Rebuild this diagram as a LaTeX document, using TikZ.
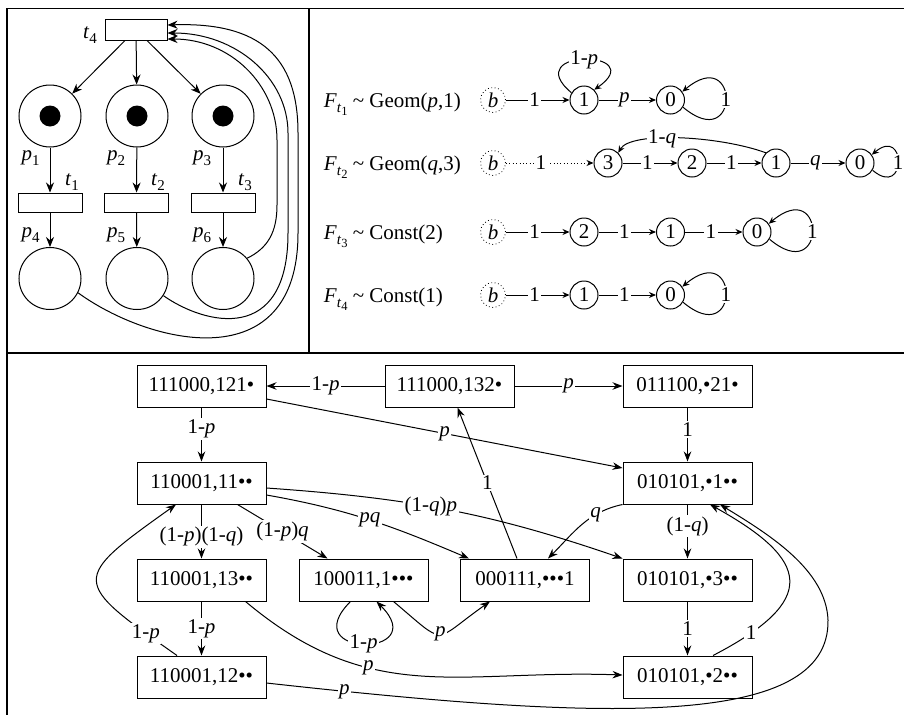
\documentclass[tikz,border=0pt]{standalone}
\usepackage{fontspec}
\setmainfont{Liberation Serif}
\usetikzlibrary{arrows.meta,calc}
\newcommand{\sub}[1]{\raisebox{-0.25em}{\fontsize{15}{15}\selectfont #1}}
\newcommand{\subb}[1]{\raisebox{-0.2em}{\fontsize{12.5}{12.5}\selectfont #1}}
\newcommand{\selfloop}[2]{\draw[sarr] (#1.-30) .. controls +(-40:#2) and +(40:#2) .. (#1.35) node[lbl,pos=0.5]{1};}
\begin{document}
\begin{tikzpicture}[x=1pt,y=1pt,font=\fontsize{21}{25}\selectfont,line width=1pt,
  lbl/.style={fill=white,inner sep=1.5pt},
  box/.style={draw,minimum width=129pt,minimum height=42pt,inner sep=0pt},
  place/.style={draw,circle,minimum size=62pt,inner sep=0pt},
  trans/.style={draw,rectangle,minimum width=64pt,minimum height=19pt,inner sep=0pt},
  token/.style={fill=black,circle,minimum size=21pt,inner sep=0pt},
  snode/.style={draw,circle,minimum size=28pt,inner sep=0pt},
  bnode/.style={draw,circle,minimum size=25pt,inner sep=0pt,line width=0.8pt,dash pattern=on 0.8pt off 2.6pt},
  parr/.style={-{Stealth[length=10pt,width=8pt]}},
  garr/.style={-{Stealth[length=10pt,width=7.5pt]}},
  sarr/.style={-{Stealth[length=7pt,width=6pt]}},
  frame/.style={line width=1.3pt}]
\useasboundingbox (0,0) rectangle (904,-715);
\clip (0,0) rectangle (904,-715);
% frame
\draw[frame] (904,-8.5) -- (7,-8.5) -- (7,-715);
\draw[frame] (309,-8.5) -- (309,-353);
\draw[frame] (7,-353) -- (904,-353);

% ---------------- Petri net
\node[trans,minimum width=62pt,minimum height=21pt] (t4) at (136,-29.5) {};
\node[place] (p1) at (50,-116) {};
\node[place] (p2) at (137,-116) {};
\node[place] (p3) at (223,-116) {};
\node[token] (k1) at (p1) {};
\node[token] (k2) at (p2) {};
\node[token] (k3) at (p3) {};
\node[trans] (t1) at (50,-202.5) {};
\node[trans] (t2) at (136.5,-202.5) {};
\node[trans] (t3) at (223,-202.5) {};
\node[place] (p4) at (50,-278.5) {};
\node[place] (p5) at (137,-278.5) {};
\node[place] (p6) at (223,-278.5) {};
\node[anchor=base] (lt4) at (90,-38) {\textit{t}\sub{4}};
\node[anchor=base] (lp1) at (30.5,-160) {\textit{p}\sub{1}};
\node[anchor=base] (lp2) at (116,-160) {\textit{p}\sub{2}};
\node[anchor=base] (lp3) at (202,-160) {\textit{p}\sub{3}};
\node[anchor=base] (lt1) at (72,-185) {\textit{t}\sub{1}};
\node[anchor=base] (lt2) at (158,-185) {\textit{t}\sub{2}};
\node[anchor=base] (lt3) at (245,-185) {\textit{t}\sub{3}};
\node[anchor=base] (lp4) at (30.5,-237) {\textit{p}\sub{4}};
\node[anchor=base] (lp5) at (116,-237) {\textit{p}\sub{5}};
\node[anchor=base] (lp6) at (202,-237) {\textit{p}\sub{6}};
\draw[parr] ($(t4.south)+(-11,0)$) -- (p1);
\draw[parr] (t4) -- (p2);
\draw[parr] ($(t4.south)+(11,0)$) -- (p3);
\draw[parr] (p1) -- (t1);
\draw[parr] (p2) -- (t2);
\draw[parr] (p3) -- (t3);
\draw[parr] (t1) -- (p4);
\draw[parr] (t2) -- (p5);
\draw[parr] (t3) -- (p6);
\draw[parr] (p6.40) .. controls (268,-248) and (277,-232) .. (277,-205) -- (277,-140) .. controls (277,-84.5) and (230,-39) .. ($(t4.east)+(0,-9.5)$);
\draw[parr] (p5.-33) .. controls (205,-325) and (288,-345) .. (288,-233) -- (288,-133) .. controls (288,-78) and (236,-33) .. ($(t4.east)+(0,-3.5)$);
\draw[parr] (p4.-27) .. controls (150,-345) and (298,-380) .. (298,-233) -- (298,-133) .. controls (298,-57) and (260,-22) .. ($(t4.east)+(0,4.5)$);

% ---------------- chains
\node[anchor=base west] (f1) at (320,-107) {\textit{F}\sub{\textit{t}\subb{1}} \textasciitilde\ Geom(\textit{p},1)};
\node[anchor=base west] (f2) at (320,-170) {\textit{F}\sub{\textit{t}\subb{2}} \textasciitilde\ Geom(\textit{q},3)};
\node[anchor=base west] (f3) at (320,-239) {\textit{F}\sub{\textit{t}\subb{3}} \textasciitilde\ Const(2)};
\node[anchor=base west] (f4) at (320,-302) {\textit{F}\sub{\textit{t}\subb{4}} \textasciitilde\ Const(1)};
% row 1
\node[bnode] (b1) at (493,-100) {\textit{b}};
\node[snode] (a1) at (584,-100) {1};
\node[snode] (a0) at (670.5,-100) {0};
\draw[sarr] (b1) -- node[lbl,pos=0.45]{1} (a1);
\draw[sarr] (a1) -- node[lbl,pos=0.45]{\textit{p}} (a0);
\draw[sarr] (a1.150) .. controls +(140:70) and +(35:70) .. (a1.45) node[lbl,pos=0.5]{1-\textit{p}};
\selfloop{a0}{75}
% row 2
\node[bnode] (b2) at (493,-163) {\textit{b}};
\node[snode] (c3) at (608,-163) {3};
\node[snode] (c2) at (692,-163) {2};
\node[snode] (c1) at (776,-163) {1};
\node[snode] (c0) at (860,-163) {0};
\draw[sarr,dash pattern=on 0.8pt off 2.6pt] (b2) -- node[lbl,pos=0.4]{1} (c3);
\draw[sarr] (c3) -- node[lbl,pos=0.45]{1} (c2);
\draw[sarr] (c2) -- node[lbl,pos=0.45]{1} (c1);
\draw[sarr] (c1) -- node[lbl,pos=0.45]{\textit{q}} (c0);
\draw[sarr] (c1.135) .. controls +(160:50) and +(60:25) .. (c3.45) node[lbl,pos=0.6]{1-\textit{q}};
\selfloop{c0}{45}
% row 3
\node[bnode] (b3) at (493,-232) {\textit{b}};
\node[snode] (d2) at (584,-232) {2};
\node[snode] (d1) at (670.5,-232) {1};
\node[snode] (d0) at (757,-232) {0};
\draw[sarr] (b3) -- node[lbl,pos=0.45]{1} (d2);
\draw[sarr] (d2) -- node[lbl,pos=0.45]{1} (d1);
\draw[sarr] (d1) -- node[lbl,pos=0.45]{1} (d0);
\selfloop{d0}{75}
% row 4
\node[bnode] (b4) at (493,-295) {\textit{b}};
\node[snode] (e1) at (584,-295) {1};
\node[snode] (e0) at (670.5,-295) {0};
\draw[sarr] (b4) -- node[lbl,pos=0.45]{1} (e1);
\draw[sarr] (e1) -- node[lbl,pos=0.45]{1} (e0);
\selfloop{e0}{75}

% ---------------- state graph
\node[box] (A) at (201.5,-386) {111000,121•};
\node[box] (B) at (449.5,-386) {111000,132•};
\node[box] (C) at (687.5,-386) {011100,•21•};
\node[box] (D) at (201.5,-483) {110001,11••};
\node[box] (E) at (687.5,-483) {010101,•1••};
\node[box] (F) at (201.5,-580) {110001,13••};
\node[box] (G) at (363.5,-580) {100011,1•••};
\node[box] (H) at (525,-580) {000111,•••1};
\node[box] (I) at (687.5,-580) {010101,•3••};
\node[box] (J) at (201.5,-677) {110001,12••};
\node[box] (K) at (687.5,-677) {010101,•2••};

\draw[garr] (B) -- node[lbl]{1-\textit{p}} (A);
\draw[garr] (B) -- node[lbl]{\textit{p}} (C);
\draw[garr] (A) -- node[lbl,pos=0.4]{1-\textit{p}} (D);
\draw[garr] ($(A.east)+(0,-13)$) -- node[lbl]{\textit{p}} ($(E.west)+(0,15)$);
\draw[garr] (C) -- node[lbl,pos=0.4]{1} (E);
\draw[garr] ($(H.north)+(-8,0)$) -- node[lbl]{1} ($(B.south)+(8,0)$);
\draw[garr] ($(D.east)+(0,-5)$) to[out=-4,in=161] node[lbl,pos=0.45]{(1-\textit{q})\textit{p}} (I.north west);
\draw[garr] ($(D.east)+(0,-12)$) to[out=-10,in=157] node[lbl,pos=0.5]{\textit{pq}} ($(H.north west)+(9,0)$);
\draw[garr] (D) -- node[lbl,pos=0.6]{(1-\textit{p})(1-\textit{q})} (F);
\draw[garr] ($(D.south)+(36,0)$) -- node[lbl]{(1-\textit{p})\textit{q}} ($(G.north)+(-36,0)$);
\draw[garr] (E.south west) to[out=192,in=45] node[lbl,pos=0.3]{\textit{q}} ($(H.north)+(23,0)$);
\draw[garr] (E) -- node[lbl,pos=0.4]{(1-\textit{q})} (I);
\draw[garr] (F) -- node[lbl]{1-\textit{p}} (J);
\draw[garr] ($(F.south)+(44,0)$) to[out=-40,in=178,looseness=1.1] node[lbl,pos=0.35]{\textit{p}} ($(K.west)+(0,2)$);
\draw[garr] ($(G.south)+(-13,0)$) .. controls +(-135:80) and +(-45:80) .. ($(G.south)+(13,0)$) node[lbl,pos=0.5]{1-\textit{p}};
\draw[garr] ($(G.south)+(30,0)$) to[out=-40,in=-145,looseness=1.9] node[lbl,pos=0.5]{\textit{p}} ($(H.south)+(-35,0)$);
\draw[garr] ($(J.north)+(-24.5,0)$) .. controls (71,-581) and (70,-580) .. ($(D.south)+(-25.5,0)$) node[lbl,pos=0.11]{1-\textit{p}};
\draw[garr] ($(J.east)+(0,-6)$) .. controls (600,-720) and (830,-730) .. (828,-620) node[lbl,pos=0.08]{\textit{p}} .. controls (826,-570) and (770,-535) .. ($(E.south)+(32.5,0)$);
\draw[garr] ($(K.north)+(25.5,0)$) .. controls (820,-600) and (810,-560) .. ($(E.south)+(22.5,0)$) node[lbl,pos=0.14]{1};
\draw[garr] (I) -- node[lbl]{1} (K);
\end{tikzpicture}
\end{document}
